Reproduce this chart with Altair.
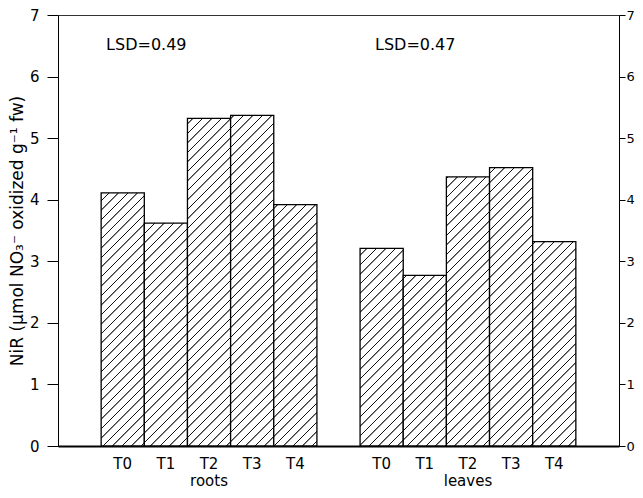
import altair as alt
import pandas as pd

# ---------------- data ----------------
organs = ["roots", "leaves"]
treatments = ["T0", "T1", "T2", "T3", "T4"]
roots_nir = [4.11, 3.62, 5.32, 5.37, 3.92]
leaves_nir = [3.21, 2.77, 4.37, 4.52, 3.32]
lsd_values = [0.49, 0.47]
y_ticks = [0, 1, 2, 3, 4, 5, 6, 7]

# ---------------- layout / style ----------------
FONT = "DejaVu Sans"
PLOT_W, PLOT_H = 561, 431
Y_MAX = 7

x_domain = (["gap0"] + [f"roots {t}" for t in treatments] + ["gap1"]
            + [f"leaves {t}" for t in treatments] + ["gap2"])
BAND = PLOT_W / len(x_domain)

x_scale = alt.Scale(domain=x_domain, paddingInner=0, paddingOuter=0)
y_scale = alt.Scale(domain=[0, Y_MAX], nice=False, zero=True)

x_axis = alt.Axis(
    title=None, ticks=False, labelAngle=0, labelPadding=10,
    labelExpr="indexof(datum.value, ' ') < 0 ? '' : substring(datum.value, indexof(datum.value, ' ') + 1)",
    labelFont=FONT, labelFontSize=15, labelColor="black",
    domainColor="black", domainWidth=2, grid=False,
)
y_axis_left = alt.Axis(
    title="NiR (μmol NO₃⁻ oxidized g⁻¹ fw)", values=y_ticks, grid=False,
    tickSize=11, tickColor="black", tickWidth=1, labelPadding=8,
    labelFont=FONT, labelFontSize=15, labelColor="black",
    domainColor="black", domainWidth=1,
    titleFont=FONT, titleFontSize=17, titleFontWeight="normal",
    titleColor="black", titlePadding=3,
)
y_axis_right = alt.Axis(
    title=None, orient="right", values=y_ticks, grid=False,
    tickSize=6, tickColor="black", tickWidth=1, labelPadding=1,
    labelFont=FONT, labelFontSize=13, labelColor="black",
    domainColor="black", domainWidth=1,
)


def hatch(slot, value, period=9.5, edge=0.6, core=0.6, ink="#111111"):
    """Diagonal '/' hatching as a linear gradient in the bar's bounding box."""
    w = BAND
    h = value / Y_MAX * PLOT_H
    x0 = slot * BAND
    y0 = PLOT_H - h
    L = w + h
    c = L / (w * w + h * h)
    s = (-(x0 + y0)) % period - period
    stops = [alt.GradientStop(offset=0, color="white")]
    total = 2 * edge + core
    while s < L:
        if s >= 0 and s + total <= L:
            for off, col in ((s, "white"), (s + edge, ink),
                             (s + edge + core, ink), (s + total, "white")):
                stops.append(alt.GradientStop(offset=round(off / L, 5), color=col))
        s += period
    stops.append(alt.GradientStop(offset=1, color="white"))
    return alt.LinearGradient(gradient="linear", x1=0, y1=0,
                              x2=round(c * w, 5), y2=round(c * h, 5), stops=stops)


bar_layers = []
for organ, vals in zip(organs, [roots_nir, leaves_nir]):
    for t, v in zip(treatments, vals):
        cat = f"{organ} {t}"
        slot = x_domain.index(cat)
        df = pd.DataFrame({"cat": [cat], "organ": [organ], "treatment": [t], "nir": [v]})
        bar_layers.append(
            alt.Chart(df).mark_bar(fill=hatch(slot, v), stroke="black", strokeWidth=1.3).encode(
                x=alt.X("cat:N", scale=x_scale, axis=x_axis, sort=x_domain),
                y=alt.Y("nir:Q", scale=y_scale, axis=y_axis_left),
            )
        )

group_df = pd.DataFrame({"organ": organs, "center": [f"{o} T2" for o in organs]})
group_text = alt.Chart(group_df).mark_text(
    font=FONT, fontSize=15, baseline="alphabetic", color="black"
).encode(
    x=alt.X("center:N", scale=x_scale, axis=x_axis, sort=x_domain),
    y=alt.value(PLOT_H + 40),
    text="organ:N",
)

lsd_layers = []
for organ, lsd, dx in zip(organs, lsd_values, [2, 12]):
    ldf = pd.DataFrame({"anchor": [f"{organ} T0"], "label": [f"LSD={lsd:.2f}"]})
    lsd_layers.append(
        alt.Chart(ldf).mark_text(
            font=FONT, fontSize=16, baseline="middle", align="center", color="black", dx=dx
        ).encode(
            x=alt.X("anchor:N", scale=x_scale, axis=x_axis, sort=x_domain, bandPosition=1),
            y=alt.value(30),
            text="label:N",
        )
    )

right_df = pd.DataFrame({"tick": y_ticks})
right_layer = alt.Chart(right_df).mark_rule(strokeOpacity=0).encode(
    y=alt.Y("tick:Q", scale=y_scale, axis=y_axis_right),
)

inner = alt.layer(*bar_layers, group_text, *lsd_layers)

chart = alt.layer(inner, right_layer).resolve_axis(y="independent").properties(
    width=PLOT_W,
    height=PLOT_H,
    padding={"left": 50, "top": 7, "right": 16, "bottom": 44},
    autosize=alt.AutoSizeParams(type="none"),
).configure_view(stroke="#333333", strokeWidth=1)

chart.save("out.html", embed_options={"renderer": "svg", "actions": False})
